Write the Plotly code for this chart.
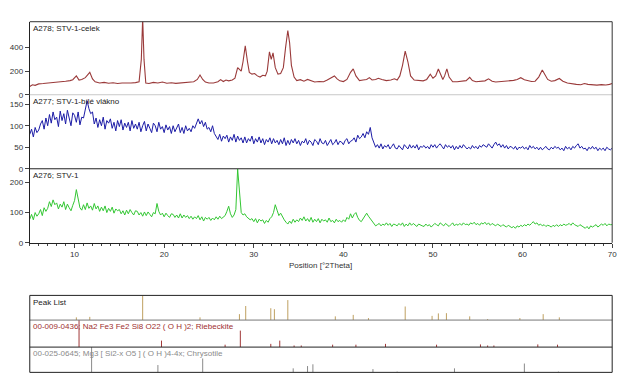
import plotly.graph_objects as go

# ---------------- data ----------------
# A278; STV-1-celek (red pattern) : position [deg 2Theta], counts
celek_x = [5.0, 5.3, 5.6, 6.0, 6.5, 7.0, 7.5, 8.0, 8.5, 9.0, 9.5, 9.8, 10.2, 10.5, 10.8, 11.2, 11.7, 12.0,
           12.3, 12.8, 13.3, 13.8, 14.3, 14.8, 15.3, 15.8, 16.3, 16.8, 17.2, 17.45, 17.6, 17.75, 17.95,
           18.3, 18.8, 19.3, 19.8, 20.3, 20.8, 21.3, 21.8, 22.3, 22.8, 23.3, 23.7, 24.0, 24.3, 24.6, 25.0,
           25.5, 26.0, 26.3, 26.6, 26.9, 27.2, 27.6, 27.9, 28.2, 28.4, 28.6, 28.8, 29.05, 29.3, 29.5, 29.8,
           30.1, 30.4, 30.7, 31.0, 31.3, 31.5, 31.75, 31.95, 32.15, 32.4, 32.7, 33.0, 33.3, 33.55, 33.8,
           34.0, 34.2, 34.5, 34.8, 35.2, 35.6, 36.0, 36.4, 36.8, 37.3, 37.8, 38.2, 38.6, 39.0, 39.3, 39.6,
           40.0, 40.4, 40.8, 41.1, 41.4, 41.8, 42.2, 42.6, 42.9, 43.2, 43.6, 43.9, 44.3, 44.8, 45.3, 45.7,
           46.0, 46.3, 46.6, 46.9, 47.2, 47.5, 47.9, 48.4, 48.9, 49.3, 49.7, 50.0, 50.3, 50.6, 50.9, 51.1,
           51.3, 51.55, 51.8, 52.2, 52.7, 53.2, 53.7, 54.1, 54.4, 54.8, 55.3, 55.8, 56.2, 56.6, 57.0, 57.5,
           58.0, 58.5, 59.0, 59.4, 59.8, 60.2, 60.6, 61.0, 61.4, 61.8, 62.2, 62.5, 62.8, 63.2, 63.6, 64.1,
           64.5, 65.0, 65.5, 66.0, 66.5, 66.9, 67.3, 67.8, 68.3, 68.8, 69.3, 69.7, 70.0]
celek_y = [70, 85, 80, 92, 95, 98, 105, 108, 110, 115, 120, 128, 160, 125, 130, 145, 190, 135,
           110, 100, 105, 98, 102, 96, 100, 97, 100, 103, 110, 300, 650, 300, 100,
           95, 105, 100, 108, 98, 102, 97, 100, 103, 105, 110, 130, 168, 130, 108, 100,
           100, 110, 128, 112, 125, 118, 125, 140, 230, 215, 200, 280, 415, 280, 190, 175,
           180, 160, 150, 165, 160, 200, 365, 300, 355, 230, 175, 180, 230, 400, 545,
           440, 250, 150, 120, 128, 115, 130, 118, 108, 112, 110, 125, 140, 160, 135, 118,
           112, 130, 190, 220, 160, 120, 125, 130, 145, 125, 130, 140, 130, 120, 125, 135,
           125, 160, 250, 370, 280, 160, 125, 120, 118, 130, 175, 140, 160, 218, 170, 130,
           160, 220, 150, 110, 110, 112, 120, 148, 120, 110, 112, 118, 135, 115, 108, 110,
           112, 118, 122, 130, 145, 128, 120, 112, 115, 150, 210, 170, 130, 115, 120, 138,
           115, 100, 92, 88, 85, 95, 88, 85, 82, 86, 83, 88, 95]

# A277 / A276 patterns sampled every 0.2 deg from 5 deg (one row = 1 deg)
step_start = 5.0
step_size = 0.2
vlakno_y = [80, 92, 74, 96, 84,       # 5
            90, 104, 112, 92, 118,    # 6
            100, 126, 106, 132, 114,  # 7
            120, 98, 134, 112, 128,   # 8
            104, 136, 118, 100, 130,  # 9
            124, 108, 132, 102, 120,  # 10
            118, 136, 158, 140, 128,  # 11
            132, 104, 118, 96, 114,   # 12
            100, 120, 92, 112, 106,   # 13
            116, 94, 108, 88, 112,    # 14
            98, 114, 90, 106, 96,     # 15
            108, 88, 112, 94, 104,    # 16
            92, 108, 86, 100, 110,    # 17
            88, 104, 94, 84, 106,     # 18
            100, 86, 108, 92, 98,     # 19
            84, 102, 90, 98, 82,      # 20
            100, 86, 94, 104, 84,     # 21
            96, 82, 100, 88, 94,      # 22
            86, 100, 94, 108, 116,    # 23
            104, 112, 98, 108, 92,    # 24
            96, 86, 100, 82, 74,      # 25
            68, 80, 64, 76, 70,       # 26
            78, 62, 74, 66, 80,       # 27
            62, 76, 66, 72, 60,       # 28
            74, 60, 70, 64, 76,       # 29
            58, 70, 62, 74, 60,       # 30
            70, 56, 68, 62, 72,       # 31
            58, 70, 60, 66, 56,       # 32
            68, 58, 72, 54, 66,       # 33
            56, 68, 60, 70, 58,       # 34
            66, 54, 64, 60, 70,       # 35
            56, 66, 62, 54, 68,       # 36
            64, 56, 70, 60, 58,       # 37
            66, 54, 62, 68, 56,       # 38
            60, 68, 56, 64, 62,       # 39
            56, 66, 70, 58, 64,       # 40
            66, 72, 62, 78, 70,       # 41
            74, 82, 72, 86, 80,       # 42
            96, 72, 58, 50, 56,       # 43
            48, 58, 46, 54, 50,       # 44
            56, 46, 52, 58, 48,       # 45
            46, 54, 50, 44, 56,       # 46
            52, 46, 56, 48, 54,       # 47
            48, 56, 44, 52, 50,       # 48
            54, 48, 52, 46, 56,       # 49
            50, 56, 48, 54, 58,       # 50
            52, 46, 56, 50, 54,       # 51
            48, 54, 44, 52, 46,       # 52
            54, 48, 56, 50, 46,       # 53
            50, 46, 54, 48, 52,       # 54
            46, 54, 50, 56, 52,       # 55
            50, 58, 52, 48, 56,       # 56
            62, 54, 58, 50, 56,       # 57
            48, 54, 46, 52, 50,       # 58
            46, 52, 44, 50, 48,       # 59
            52, 46, 50, 44, 54,       # 60
            48, 52, 46, 50, 44,       # 61
            50, 44, 48, 52, 46,       # 62
            44, 50, 46, 52, 48,       # 63
            50, 44, 48, 42, 52,       # 64
            46, 50, 44, 52, 48,       # 65
            54, 58, 48, 52, 46,       # 66
            48, 42, 50, 46, 52,       # 67
            46, 50, 42, 48, 44,       # 68
            48, 42, 50, 46, 44,       # 69
            48]                       # 70
stv1_y = [78, 94, 76, 100, 88,        # 5
          96, 110, 90, 116, 104,      # 6
          114, 136, 120, 142, 126,    # 7
          132, 112, 128, 118, 136,    # 8
          110, 128, 116, 106, 124,    # 9
          140, 176, 150, 116, 108,    # 10
          126, 110, 132, 114, 122,    # 11
          108, 130, 112, 122, 104,    # 12
          118, 106, 122, 100, 114,    # 13
          104, 118, 98, 112, 106,     # 14
          110, 96, 106, 92, 108,      # 15
          96, 110, 100, 92, 106,      # 16
          104, 92, 100, 88, 102,      # 17
          90, 102, 94, 86, 100,       # 18
          96, 130, 104, 92, 98,       # 19
          86, 98, 90, 84, 96,         # 20
          94, 84, 92, 82, 96,         # 21
          82, 92, 84, 90, 80,         # 22
          88, 78, 86, 80, 90,         # 23
          76, 86, 72, 84, 78,         # 24
          84, 74, 82, 76, 86,         # 25
          78, 88, 80, 84, 90,         # 26
          104, 121, 96, 84, 92,       # 27
          110, 244, 160, 100, 92,     # 28
          96, 86, 82, 76, 80,         # 29
          70, 80, 66, 78, 72,         # 30
          76, 64, 74, 68, 80,         # 31
          86, 100, 126, 108, 90,      # 32
          98, 84, 76, 68, 62,         # 33
          72, 64, 78, 68, 76,         # 34
          70, 82, 74, 86, 72,         # 35
          80, 70, 84, 68, 78,         # 36
          70, 80, 66, 78, 72,         # 37
          76, 68, 82, 70, 74,         # 38
          66, 78, 70, 74, 68,         # 39
          76, 70, 84, 78, 96,         # 40
          82, 94, 100, 84, 74,        # 41
          70, 80, 86, 98, 88,         # 42
          80, 68, 62, 56, 60,         # 43
          64, 56, 62, 58, 66,         # 44
          58, 64, 54, 62, 60,         # 45
          56, 64, 58, 66, 54,         # 46
          62, 56, 66, 58, 64,         # 47
          60, 54, 62, 58, 56,         # 48
          54, 62, 56, 60, 52,         # 49
          58, 64, 60, 56, 66,         # 50
          62, 56, 64, 58, 54,         # 51
          60, 66, 56, 62, 58,         # 52
          64, 58, 66, 60, 62,         # 53
          58, 66, 62, 68, 60,         # 54
          64, 58, 66, 62, 68,         # 55
          60, 66, 58, 64, 60,         # 56
          56, 62, 58, 54, 60,         # 57
          56, 52, 58, 54, 50,         # 58
          54, 48, 56, 52, 58,         # 59
          54, 60, 56, 62, 58,         # 60
          64, 70, 62, 66, 58,         # 61
          62, 56, 60, 54, 58,         # 62
          56, 52, 58, 54, 60,         # 63
          54, 60, 56, 62, 58,         # 64
          60, 64, 58, 66, 60,         # 65
          58, 54, 60, 56, 52,         # 66
          48, 54, 46, 56, 52,         # 67
          56, 60, 52, 58, 62,         # 68
          58, 64, 56, 62, 60,         # 69
          60]                         # 70

# reference stick patterns (relative intensity, %)
peaklist_pos = [10.2, 11.7, 17.6, 24.0, 28.4, 29.1, 31.9, 32.3, 33.8, 39.1, 41.1, 42.8, 46.9,
                49.9, 50.6, 51.5, 54.1, 56.1, 59.7, 62.3, 64.1]
peaklist_int = [11, 13, 100, 11, 24, 57, 48, 44, 81, 15, 21, 8, 55, 17, 27, 28, 15, 4, 8, 24, 11]
riebeckite_pos = [10.5, 19.7, 26.8, 28.5, 31.9, 32.9, 34.5, 35.3, 38.8, 41.4, 44.7, 50.4, 55.3,
                  56.1, 56.8, 61.7, 63.9]
riebeckite_int = [100, 24, 9, 61, 12, 24, 6, 6, 9, 9, 12, 9, 10, 6, 6, 10, 9]
chrysotile_pos = [11.9, 19.3, 24.3, 34.4, 36.0, 36.6, 43.3, 46.0, 52.4, 60.2, 64.0]
chrysotile_int = [100, 29, 55, 16, 25, 32, 13, 3, 16, 35, 3]

x_ticks = [10, 20, 30, 40, 50, 60, 70]
celek_ticks = [0, 200, 400]
vlakno_ticks = [0, 50, 100, 150]
stv1_ticks = [0, 100, 200]

panel_labels = ["A278; STV-1-celek", "A277; STV-1-bílé vlákno", "A276; STV-1"]
strip_labels = ["Peak List",
                "00-009-0436; Na2 Fe3 Fe2 Si8 O22 ( O H )2; Riebeckite",
                "00-025-0645; Mg3 [ Si2-x O5 ] ( O H )4-4x; Chrysotile"]
x_title = "Position [°2Theta]"

# ---------------- figure ----------------
W, H = 640, 383
FONT = "Liberation Sans, Arial, sans-serif"


def py(p):
    return 1 - p / H


def px(p):
    return p / W


X0, X1 = 30, 617
P = [22, 96, 171, 246]          # pattern panel boundaries (px from top)
S = [299.3, 324.3, 351.7, 377.3]  # stick strip boundaries


def sticks(pos, inten):
    xs, ys = [], []
    for p, i in zip(pos, inten):
        xs += [p, p, None]
        ys += [0, i, None]
    return xs, ys


vx = [step_start + step_size * i for i in range(len(vlakno_y))]
gx = [step_start + step_size * i for i in range(len(stv1_y))]

fig = go.Figure()
fig.add_trace(go.Scatter(x=celek_x, y=celek_y, mode="lines", xaxis="x", yaxis="y",
                         line=dict(color="#9a3a3a", width=1.1), hoverinfo="skip"))
fig.add_trace(go.Scatter(x=vx, y=vlakno_y, mode="lines", xaxis="x", yaxis="y2",
                         line=dict(color="#1c1ca6", width=1), hoverinfo="skip"))
fig.add_trace(go.Scatter(x=gx, y=stv1_y, mode="lines", xaxis="x", yaxis="y3",
                         line=dict(color="#33c633", width=1), hoverinfo="skip"))
for k, (pos, inten, col) in enumerate([(peaklist_pos, peaklist_int, "#bfa060"),
                                        (riebeckite_pos, riebeckite_int, "#a03838"),
                                        (chrysotile_pos, chrysotile_int, "#8a8a8a")]):
    sx, sy = sticks(pos, inten)
    fig.add_trace(go.Scatter(x=sx, y=sy, mode="lines", xaxis="x", yaxis="y%d" % (k + 4),
                             line=dict(color=col, width=1), hoverinfo="skip"))

tickfont = dict(family=FONT, size=8, color="#333")
common_y = dict(anchor="x", showgrid=False, zeroline=False, showline=True, linecolor="#222",
                linewidth=1, ticks="outside", ticklen=4, tickcolor="#444", tickfont=tickfont,
                fixedrange=True)
strip_y = dict(anchor="x", showgrid=False, zeroline=False, showline=False,
               showticklabels=False, ticks="", range=[0, 100], fixedrange=True)

fig.update_layout(
    width=W, height=H, autosize=False,
    margin=dict(l=0, r=0, t=0, b=0),
    paper_bgcolor="white", plot_bgcolor="white",
    showlegend=False,
    font=dict(family=FONT, size=8, color="#333"),
    xaxis=dict(domain=[px(X0), px(X1)], range=[5, 70], anchor="y3", showgrid=False,
               zeroline=False, showline=True, linecolor="#222", linewidth=1,
               ticks="outside", ticklen=4, tickcolor="#444", tickvals=x_ticks,
               tickfont=tickfont, fixedrange=True,
               minor=dict(dtick=1, ticks="outside", ticklen=2, tickcolor="#444")),
    yaxis=dict(domain=[py(P[1]), py(P[0])], range=[0, 620], tickvals=celek_ticks, **common_y),
    yaxis2=dict(domain=[py(P[2]), py(P[1])], range=[0, 172], tickvals=vlakno_ticks, **common_y),
    yaxis3=dict(domain=[py(P[3]), py(P[2])], range=[0, 245], tickvals=stv1_ticks, **common_y),
    yaxis4=dict(domain=[py(S[1]), py(S[0])], **strip_y),
    yaxis5=dict(domain=[py(S[2]), py(S[1])], **strip_y),
    yaxis6=dict(domain=[py(S[3]), py(S[2])], **strip_y),
)

shapes = []


def hline(y, color, x0=X0, x1=X1):
    shapes.append(dict(type="line", xref="paper", yref="paper", x0=px(x0), x1=px(x1),
                       y0=py(y), y1=py(y), line=dict(color=color, width=1)))


def vline(x, y0, y1, color):
    shapes.append(dict(type="line", xref="paper", yref="paper", x0=px(x), x1=px(x),
                       y0=py(y0), y1=py(y1), line=dict(color=color, width=1)))


hline(P[0], "#333")
hline(P[1], "#c8c8c8")
hline(P[2], "#222")
vline(X1, P[0], P[3], "#333")
# stick strips box
hline(S[0], "#222")
hline(S[1], "#777")
hline(S[2], "#222")
hline(S[3], "#222")
vline(X0, S[0], S[3], "#222")
vline(X1, S[0], S[3], "#222")
fig.update_layout(shapes=shapes)

ann = []
for lab, top in zip(panel_labels, P[:3]):
    ann.append(dict(text=lab, xref="paper", yref="paper", x=px(X0 + 1.5), y=py(top + 0.5),
                    xanchor="left", yanchor="top", showarrow=False,
                    font=dict(family=FONT, size=8, color="#222")))
for lab, top, col in zip(strip_labels, S[:3], ["#222", "#a03030", "#8a8a8a"]):
    ann.append(dict(text=lab, xref="paper", yref="paper", x=px(X0 + 1), y=py(top + 0.3),
                    xanchor="left", yanchor="top", showarrow=False,
                    font=dict(family=FONT, size=8, color=col)))
ann.append(dict(text=x_title, xref="paper", yref="paper", x=px(323), y=py(269),
                xanchor="center", yanchor="middle", showarrow=False,
                font=dict(family=FONT, size=8, color="#333")))
fig.update_layout(annotations=ann)

fig.write_html("out.html", config={"displayModeBar": False, "responsive": False},
               post_script="document.body.style.margin='0';document.body.style.overflow='hidden';")
